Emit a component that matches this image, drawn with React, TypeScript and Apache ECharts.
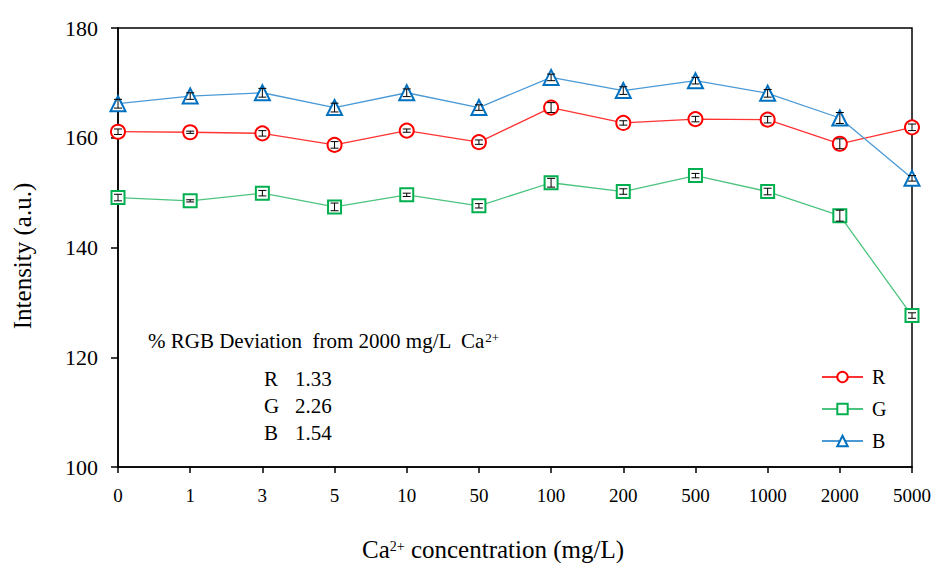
import React, { useEffect, useRef } from "react";
import * as echarts from "echarts";

const categories = ["0", "1", "3", "5", "10", "50", "100", "200", "500", "1000", "2000", "5000"];
const rValues = [161.1, 161.0, 160.8, 158.7, 161.3, 159.2, 165.5, 162.7, 163.4, 163.3, 158.9, 161.9];
const gValues = [149.1, 148.5, 149.9, 147.4, 149.6, 147.6, 151.8, 150.2, 153.1, 150.2, 145.8, 127.6];
const bValues = [166.2, 167.6, 168.2, 165.5, 168.2, 165.5, 171.0, 168.6, 170.4, 168.1, 163.6, 152.6];
const rErr = [0.5, 0.2, 0.5, 0.6, 0.3, 0.4, 0.9, 0.4, 0.5, 0.6, 0.9, 0.6];
const gErr = [0.6, 0.2, 0.5, 0.7, 0.3, 0.4, 0.8, 0.5, 0.4, 0.6, 1.0, 0.5];
const bErr = [0.8, 0.6, 0.8, 0.8, 0.7, 0.5, 0.6, 0.7, 0.6, 0.7, 1.0, 0.5];
const deviationRows = [
  ["R", "1.33"],
  ["G", "2.26"],
  ["B", "1.54"],
];

const FONT = "'Liberation Serif', 'Times New Roman', Times, serif";

function errorSeries(values: number[], errs: number[]) {
  return {
    type: "custom",
    silent: true,
    z: 5,
    data: values.map((v, i) => [i, v - errs[i], v + errs[i]]),
    renderItem: (params: any, api: any) => {
      const x = api.value(0);
      const lo = api.coord([x, api.value(1)]);
      const hi = api.coord([x, api.value(2)]);
      const w = 4;
      const style = { stroke: "#000", lineWidth: 1 };
      return {
        type: "group",
        children: [
          { type: "line", shape: { x1: lo[0], y1: lo[1], x2: hi[0], y2: hi[1] }, style },
          { type: "line", shape: { x1: lo[0] - w, y1: lo[1], x2: lo[0] + w, y2: lo[1] }, style },
          { type: "line", shape: { x1: hi[0] - w, y1: hi[1], x2: hi[0] + w, y2: hi[1] }, style },
        ],
      };
    },
  };
}

export default function App() {
  const ref = useRef<HTMLDivElement>(null);
  useEffect(() => {
    const chart = echarts.init(ref.current!, null, { renderer: "svg" });
    const lineSeries = (name: string, data: number[], color: string, lineColor: string, symbol: string, size: number) => ({
      name,
      type: "line",
      data,
      symbol,
      symbolSize: size,
      showAllSymbol: true,
      z: 3,
      lineStyle: { color: lineColor, width: 1.3 },
      itemStyle: { color: "#fff", borderColor: color, borderWidth: 2 },
    });
    const sup = (size: number, raise: number) => ({
      fontFamily: FONT,
      fontSize: size,
      fill: "#000",
      padding: [0, 0, raise * 2, 0],
    });
    const norm = (size: number) => ({
      fontFamily: FONT,
      fontSize: size,
      fill: "#000",
      lineHeight: size + 4,
    });
    chart.setOption({
      animation: false,
      textStyle: { fontFamily: FONT },
      grid: {
        left: 118,
        right: 26,
        top: 28,
        bottom: 96,
        show: true,
        borderColor: "#000",
        borderWidth: 1.5,
        backgroundColor: "transparent",
      },
      legend: {
        orient: "vertical",
        left: 816,
        top: 362,
        itemWidth: 41,
        itemHeight: 13,
        itemGap: 12,
        textStyle: { fontFamily: FONT, fontSize: 20, color: "#000", padding: [0, 0, 0, 4] },
        data: ["R", "G", "B"],
      },
      xAxis: {
        type: "category",
        data: categories,
        boundaryGap: false,
        axisLine: { lineStyle: { color: "#000", width: 1.5 } },
        axisTick: { show: true, alignWithLabel: true, length: 6, lineStyle: { color: "#000", width: 1.5 } },
        axisLabel: { color: "#000", fontFamily: FONT, fontSize: 19, margin: 19 },
      },
      yAxis: {
        type: "value",
        min: 100,
        max: 180,
        interval: 20,
        splitLine: { show: false },
        axisLine: { show: true, lineStyle: { color: "#000", width: 1.5 } },
        axisTick: { show: true, length: 7, lineStyle: { color: "#000", width: 1.5 } },
        axisLabel: { color: "#000", fontFamily: FONT, fontSize: 22, margin: 20 },
      },
      graphic: [
        {
          type: "text",
          x: 22,
          y: 256,
          rotation: Math.PI / 2,
          style: {
            text: "Intensity (a.u.)",
            fontFamily: FONT,
            fontSize: 25,
            fill: "#000",
            align: "center",
            verticalAlign: "middle",
          },
        },
        {
          type: "text",
          x: 493,
          y: 549,
          style: {
            text: "{n|Ca}{s|2+}{n| concentration (mg/L)}",
            fill: "#000",
            align: "center",
            verticalAlign: "middle",
            rich: { n: norm(25), s: sup(14, 3) },
          },
        },
        {
          type: "text",
          x: 148,
          y: 328,
          style: {
            text: "{n|% RGB Deviation  from 2000 mg/L  Ca}{s|2+}",
            fill: "#000",
            rich: { n: norm(21), s: sup(13, 3) },
          },
        },
        ...deviationRows.map((row, i) => ({
          type: "group",
          x: 264,
          y: 368 + i * 27,
          children: [
            { type: "text", x: 0, y: 0, style: { text: row[0], fontFamily: FONT, fontSize: 21, fill: "#000" } },
            { type: "text", x: 31, y: 0, style: { text: row[1], fontFamily: FONT, fontSize: 21, fill: "#000" } },
          ],
        })),
      ],
      series: [
        lineSeries("R", rValues, "#FF0000", "#FF3333", "circle", 14),
        lineSeries("G", gValues, "#00B050", "#4CC47F", "rect", 13),
        lineSeries("B", bValues, "#0070C0", "#4B9AD6", "triangle", 15),
        errorSeries(rValues, rErr),
        errorSeries(gValues, gErr),
        errorSeries(bValues, bErr),
      ],
    });
    return () => chart.dispose();
  }, []);
  return <div ref={ref} style={{ width: 938, height: 563, position: "absolute", left: 0, top: 0 }} />;
}
